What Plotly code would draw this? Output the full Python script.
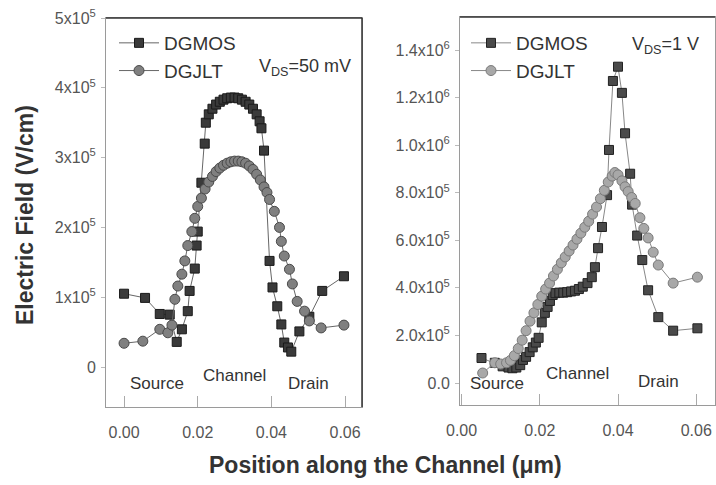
import plotly.graph_objects as go

# ---------------- data (values in units of 1e5 V/cm) ----------------
x_l_mos = [0.000, 0.0057, 0.0097, 0.0124, 0.0143, 0.0157, 0.0173, 0.0178, 0.0192, 0.0197, 0.0200,
           0.0210, 0.0219, 0.0222, 0.0230, 0.0240, 0.0250, 0.0260, 0.0270, 0.0280, 0.0290, 0.0300,
           0.0310, 0.0320, 0.0330, 0.0340, 0.0350, 0.0360, 0.0368, 0.0373, 0.0380, 0.0395, 0.0403,
           0.0416, 0.0427, 0.0435, 0.0445, 0.0454, 0.0476, 0.0503, 0.0538, 0.0597]
y_l_mos = [1.05, 0.99, 0.76, 0.75, 0.36, 0.54, 0.80, 1.09, 1.41, 1.74, 1.94,
           2.64, 3.20, 3.50, 3.62, 3.70, 3.76, 3.80, 3.83, 3.85, 3.86, 3.86,
           3.85, 3.83, 3.80, 3.76, 3.70, 3.62, 3.52, 3.42, 3.10, 1.52, 1.14,
           0.87, 0.61, 0.35, 0.28, 0.22, 0.51, 0.72, 1.09, 1.30]

x_l_jlt = [0.000, 0.0051, 0.0097, 0.0119, 0.0130, 0.0138, 0.0146, 0.0157, 0.0165, 0.0173, 0.0184,
           0.0192, 0.0200, 0.0210, 0.0220, 0.0230, 0.0240, 0.0250, 0.0260, 0.0270, 0.0280, 0.0290,
           0.0300, 0.0310, 0.0320, 0.0330, 0.0340, 0.0350, 0.0360, 0.0370, 0.0380, 0.0388, 0.0395,
           0.0408, 0.0422, 0.0427, 0.0435, 0.0449, 0.0457, 0.0470, 0.0490, 0.0503, 0.0535, 0.0597]
y_l_jlt = [0.34, 0.37, 0.54, 0.49, 0.60, 0.97, 1.16, 1.33, 1.52, 1.74, 1.94,
           2.13, 2.30, 2.42, 2.55, 2.65, 2.73, 2.80, 2.85, 2.89, 2.92, 2.94,
           2.95, 2.95, 2.94, 2.92, 2.88, 2.83, 2.76, 2.68, 2.58, 2.50, 2.40,
           2.23, 2.00, 1.80, 1.59, 1.40, 1.19, 0.94, 0.80, 0.66, 0.56, 0.60]

x_r_mos = [0.0051, 0.0085, 0.0105, 0.0120, 0.0130, 0.0140, 0.0150, 0.0157, 0.0165, 0.0174, 0.0182,
           0.0190, 0.0197, 0.0205, 0.0213, 0.0220, 0.0226, 0.0233, 0.0240, 0.0250, 0.0260, 0.0270,
           0.0280, 0.0290, 0.0300, 0.0310, 0.0322, 0.0333, 0.0341, 0.0349, 0.0359, 0.0372, 0.0377,
           0.0387, 0.0400, 0.0410, 0.0418, 0.0431, 0.0436, 0.0449, 0.0462, 0.0477, 0.0503, 0.0541, 0.0603]
y_r_mos = [1.05, 0.85, 0.70, 0.65, 0.62, 0.65, 0.75, 0.97, 1.10, 1.30, 1.50,
           1.70, 1.90, 2.55, 2.95, 3.20, 3.45, 3.70, 3.78, 3.80, 3.80, 3.82,
           3.85, 3.88, 3.95, 4.05, 4.20, 4.45, 4.87, 5.67, 6.56, 7.90, 9.80,
           12.7, 13.3, 12.2, 10.5, 8.8, 7.5, 6.2, 5.17, 3.9, 2.77, 2.2, 2.3]

x_r_jlt = [0.0054, 0.0085, 0.0100, 0.0115, 0.0125, 0.0135, 0.0145, 0.0155, 0.0165, 0.0175, 0.0185,
           0.0195, 0.0205, 0.0215, 0.0225, 0.0235, 0.0245, 0.0255, 0.0265, 0.0275, 0.0285, 0.0295,
           0.0305, 0.0315, 0.0325, 0.0335, 0.0345, 0.0355, 0.0365, 0.0375, 0.0385, 0.0392, 0.0400,
           0.0410, 0.0418, 0.0426, 0.0435, 0.0444, 0.0456, 0.0466, 0.0477, 0.0490, 0.0503, 0.0541, 0.0603]
y_r_jlt = [0.42, 0.85, 0.80, 0.85, 0.95, 1.15, 1.45, 1.80, 2.20, 2.60, 2.95,
           3.30, 3.65, 3.95, 4.20, 4.50, 4.78, 5.05, 5.30, 5.55, 5.80, 6.05,
           6.30, 6.55, 6.80, 7.10, 7.40, 7.75, 8.10, 8.45, 8.70, 8.85, 8.75,
           8.50, 8.25, 8.05, 7.80, 7.55, 6.95, 6.50, 6.10, 5.50, 4.96, 4.20, 4.45]

x_ticks = [0.00, 0.02, 0.04, 0.06]
x_ticktext = ["0.00", "0.02", "0.04", "0.06"]
yl_ticks = [0, 1e5, 2e5, 3e5, 4e5, 5e5]
yl_ticktext = ["0", "1x10<sup>5</sup>", "2x10<sup>5</sup>", "3x10<sup>5</sup>", "4x10<sup>5</sup>", "5x10<sup>5</sup>"]
yr_ticks = [0, 2e5, 4e5, 6e5, 8e5, 1.0e6, 1.2e6, 1.4e6]
yr_ticktext = ["0.0", "2.0x10<sup>5</sup>", "4.0x10<sup>5</sup>", "6.0x10<sup>5</sup>", "8.0x10<sup>5</sup>",
               "1.0x10<sup>6</sup>", "1.2x10<sup>6</sup>", "1.4x10<sup>6</sup>"]
region_labels = ["Source", "Channel", "Drain"]

SCALE = 1e5
FONT = "Arial, Liberation Sans, Helvetica, sans-serif"

def scaled(v):
    return [a * SCALE for a in v]

fig = go.Figure()

sq = dict(symbol="square", size=9, color="#3a3a3a", line=dict(color="#1a1a1a", width=1))
ci = dict(symbol="circle", size=10, color="#808080", line=dict(color="#4a4a4a", width=1))
sq_r = dict(symbol="square", size=9, color="#4a4a4a", line=dict(color="#222222", width=1))
ci_r = dict(symbol="circle", size=10, color="#a8a8a8", line=dict(color="#7a7a7a", width=1))

fig.add_trace(go.Scatter(x=x_l_mos, y=scaled(y_l_mos), mode="lines+markers", name="DGMOS",
                         marker=sq, line=dict(color="#666666", width=1), xaxis="x", yaxis="y",
                         legend="legend"))
fig.add_trace(go.Scatter(x=x_l_jlt, y=scaled(y_l_jlt), mode="lines+markers", name="DGJLT",
                         marker=ci, line=dict(color="#666666", width=1), xaxis="x", yaxis="y",
                         legend="legend"))
fig.add_trace(go.Scatter(x=x_r_mos, y=scaled(y_r_mos), mode="lines+markers", name="DGMOS",
                         marker=sq_r, line=dict(color="#888888", width=1), xaxis="x2", yaxis="y2",
                         legend="legend2"))
fig.add_trace(go.Scatter(x=x_r_jlt, y=scaled(y_r_jlt), mode="lines+markers", name="DGJLT",
                         marker=ci_r, line=dict(color="#888888", width=1), xaxis="x2", yaxis="y2",
                         legend="legend2"))

W, H = 716, 485
def px(x):
    return x / W
def py(y):
    return 1 - y / H

axis_common = dict(showgrid=False, zeroline=False, showline=True, mirror=True,
                   linecolor="#9a9a9a", linewidth=1, automargin=False,
                   tickfont=dict(family=FONT, size=16, color="#555555"))

fig.update_layout(
    template=None,
    width=W, height=H, margin=dict(l=0, r=0, t=0, b=0, autoexpand=False),
    paper_bgcolor="white", plot_bgcolor="white",
    font=dict(family=FONT, color="#333333"),
    xaxis=dict(domain=[px(106), px(362)], range=[-0.0049, 0.0646], anchor="y",
               tickvals=x_ticks, ticktext=x_ticktext, ticks="inside", ticklen=11,
               tickcolor="#aaaaaa", ticklabelstandoff=11, **axis_common),
    yaxis=dict(domain=[py(407), py(18)], range=[-0.573e5, 5.0e5], anchor="x",
               tickvals=yl_ticks, ticktext=yl_ticktext, ticks="outside", ticklen=4,
               tickcolor="#bbbbbb", ticklabelstandoff=2, **axis_common),
    xaxis2=dict(domain=[px(460), px(715)], range=[-0.0004, 0.0648], anchor="y2",
                tickvals=x_ticks, ticktext=x_ticktext, ticks="inside", ticklen=11,
                tickcolor="#aaaaaa", ticklabelstandoff=11, **axis_common),
    yaxis2=dict(domain=[py(405), py(17)], range=[-0.0925e6, 1.539e6], anchor="x2",
                tickvals=yr_ticks, ticktext=yr_ticktext, ticks="outside", ticklen=4,
                tickcolor="#bbbbbb", ticklabelstandoff=2, **axis_common),
    legend=dict(x=px(114), y=py(24), xanchor="left", yanchor="top",
                bgcolor="rgba(0,0,0,0)", font=dict(family=FONT, size=19, color="#333333"),
                itemwidth=40, tracegroupgap=0),
    legend2=dict(x=px(466), y=py(24), xanchor="left", yanchor="top",
                 bgcolor="rgba(0,0,0,0)", font=dict(family=FONT, size=19, color="#333333"),
                 itemwidth=40, tracegroupgap=0),
    showlegend=True,
)

# darker top / right frame lines like the scan
fig.add_shape(type="line", xref="x domain", yref="y domain", x0=0, x1=1, y0=1, y1=1,
              line=dict(color="#333333", width=1.5))
fig.add_shape(type="line", xref="x domain", yref="y domain", x0=1, x1=1, y0=0, y1=1,
              line=dict(color="#333333", width=1.5))
fig.add_shape(type="line", xref="x2 domain", yref="y2 domain", x0=0, x1=1, y0=1, y1=1,
              line=dict(color="#333333", width=1.5))

def label(xx, yy, text, size, angle=0, color="#333333"):
    return dict(x=px(xx), y=py(yy), xref="paper", yref="paper", text=text, showarrow=False,
                xanchor="center", yanchor="middle", textangle=angle,
                font=dict(family=FONT, size=size, color=color))

ann = []
for lbl, xx, yy in zip(region_labels, [157, 235, 308], [383, 375, 383]):
    ann.append(label(xx, yy, lbl, 17))
for lbl, xx, yy in zip(region_labels, [497, 577, 658], [383, 373, 381]):
    ann.append(label(xx, yy, lbl, 17))
ann.append(label(305, 68, "V<sub>DS</sub>=50 mV", 18))
ann.append(label(665, 45, "V<sub>DS</sub>=1 V", 18))
ann.append(label(25, 215, "<b>Electric Field (V/cm)</b>", 23, angle=-90))
ann.append(label(385, 465, "<b>Position along the Channel (\u03bcm)</b>", 23))
fig.update_layout(annotations=ann)

fig.write_html("out.html")
